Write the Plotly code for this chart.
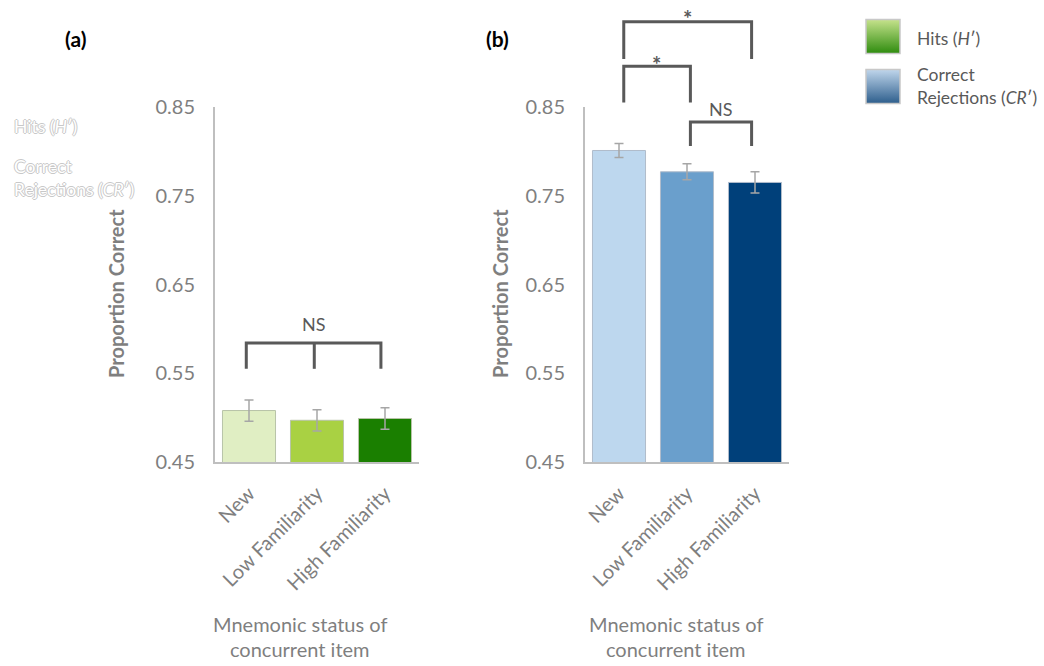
import plotly.graph_objects as go

W, H = 1044, 666

categories = ["New", "Low Familiarity", "High Familiarity"]
hits = [0.508, 0.497, 0.499]
hits_err = [0.012, 0.012, 0.012]
cr = [0.801, 0.777, 0.765]
cr_err = [0.008, 0.009, 0.012]
y_ticks = [0.45, 0.55, 0.65, 0.75, 0.85]
y_range = [0.45, 0.85]

hits_colors = ["#e0eec3", "#a9d143", "#1a7f00"]
cr_colors = ["#bdd7ee", "#6a9fcc", "#00407a"]

# bracket levels (data units): (top, bottom)
a_ns_level = (0.584, 0.555)
b_outer_level = (0.946, 0.904)
b_inner_level = (0.896, 0.855)
b_ns_level = (0.833, 0.806)

FONT = "Lato"
GRAY_TXT = "#7f7f7f"
DARK_TXT = "#595959"

dom_a = [215 / W, 419 / W]
dom_b = [585 / W, 789 / W]
dom_y = [1 - 462 / H, 1 - 107 / H]


def px(dom, i, off=0.0):
    return dom[0] + (i + 0.5 + off) / 3 * (dom[1] - dom[0])


def py(v):
    return dom_y[0] + (v - y_range[0]) / (y_range[1] - y_range[0]) * (dom_y[1] - dom_y[0])


fig = go.Figure()

err_style = dict(type="data", color="#a6a6a6", thickness=1.5, width=4.5)

fig.add_trace(go.Bar(x=categories, y=hits, marker=dict(color=hits_colors, line=dict(color="#b8c4a8", width=1)),
                     error_y=dict(array=hits_err, **err_style), xaxis="x", yaxis="y", showlegend=False))
fig.add_trace(go.Bar(x=categories, y=cr, marker=dict(color=cr_colors, line=dict(color="#b0bccb", width=1)),
                     error_y=dict(array=cr_err, **err_style), xaxis="x2", yaxis="y2", showlegend=False))

# legend swatches with vertical gradient on overlay axis (pixel coordinates)
fig.add_trace(go.Scatter(x=[883], y=[36.5], mode="markers", xaxis="x3", yaxis="y3", showlegend=False,
                         marker=dict(symbol="square", size=34, color="#c6e28c",
                                     gradient=dict(type="vertical", color="#2e8c0e"),
                                     line=dict(color="#c8c8c8", width=1.5))))
fig.add_trace(go.Scatter(x=[883], y=[86.5], mode="markers", xaxis="x3", yaxis="y3", showlegend=False,
                         marker=dict(symbol="square", size=34, color="#c0d6ec",
                                     gradient=dict(type="vertical", color="#2d5e8c"),
                                     line=dict(color="#c8c8c8", width=1.5))))

xax = dict(showline=True, linecolor="#bfbfbf", linewidth=2, showgrid=False, zeroline=False,
           tickangle=-45, tickfont=dict(family=FONT, size=20, color=GRAY_TXT),
           ticks="outside", ticklen=10, tickcolor="rgba(0,0,0,0)")
yax = dict(range=y_range, tickvals=y_ticks, ticktext=[f"{v:.2f}" for v in y_ticks],
           showline=True, linecolor="#bfbfbf", linewidth=2, showgrid=False, zeroline=False,
           ticks="outside", ticklen=14, tickcolor="rgba(0,0,0,0)",
           tickfont=dict(family=FONT, size=20, color=GRAY_TXT), domain=dom_y)

shapes = []
annotations = []
LINE = dict(color="#595959", width=3)


def bracket(dom, i0, i1, level, offs=(0, 0), mid=None):
    x0 = px(dom, i0, offs[0])
    x1 = px(dom, i1, offs[1])
    yt, yb = py(level[0]), py(level[1])
    shapes.append(dict(type="path", xref="paper", yref="paper",
                       path=f"M {x0},{yb} L {x0},{yt} L {x1},{yt} L {x1},{yb}", line=LINE))
    if mid is not None:
        xm = px(dom, mid[0], mid[1])
        shapes.append(dict(type="line", xref="paper", yref="paper", x0=xm, x1=xm, y0=yt, y1=yb, line=LINE))


bracket(dom_a, 0, 2, a_ns_level, (-0.04, -0.06), mid=(1, -0.04))
bracket(dom_b, 0, 2, b_outer_level, (0.07, -0.05))
bracket(dom_b, 0, 1, b_inner_level, (0.07, 0.05))
bracket(dom_b, 1, 2, b_ns_level, (0.05, -0.05))


def txt(x, y, text, size, color=DARK_TXT, xanchor="center", **kw):
    annotations.append(dict(x=x, y=y, xref="paper", yref="paper", text=text, showarrow=False,
                            xanchor=xanchor, yanchor="middle",
                            font=dict(family=FONT, size=size, color=color), **kw))


txt(px(dom_a, 1, -0.04), py(0.605), "NS", 18)
txt(px(dom_b, 1, 0.0), py(0.950), "<b>*</b>", 22)
txt(px(dom_b, 0, 0.55), py(0.898), "<b>*</b>", 22)
txt(px(dom_b, 1, 0.5), py(0.848), "NS", 18)

# panel labels
txt(75 / W, 1 - 39 / H, "<b>(a)</b>", 21, color="#000000")
txt(497 / W, 1 - 39 / H, "<b>(b)</b>", 21, color="#000000")

# y titles
for xc in (116, 500):
    txt(xc / W, 1 - 294 / H, "<b>Proportion Correct</b>", 20, color=GRAY_TXT, textangle=-90)

# x titles
for xc in (300, 676):
    txt(xc / W, 1 - 624 / H, "Mnemonic status of", 20, color=GRAY_TXT)
    txt(xc / W, 1 - 649 / H, "concurrent item", 20, color=GRAY_TXT)

# legend texts
txt(915 / W, 1 - 38 / H, "Hits (<i>H</i>′)", 17.5, xanchor="left")
txt(915 / W, 1 - 86 / H, "Correct<br>Rejections (<i>CR</i>′)", 17.5, xanchor="left", align="left")

# ghost outlined legend text at left
ghost = dict(family=FONT, size=17.5, color="#ffffff",
             shadow="1px 0 0 #c8c8c8, -1px 0 0 #c8c8c8, 0 1px 0 #c8c8c8, 0 -1px 0 #c8c8c8")
annotations.append(dict(x=12 / W, y=1 - 127 / H, xref="paper", yref="paper", text="Hits (<i>H</i>′)",
                        showarrow=False, xanchor="left", yanchor="middle", font=ghost))
annotations.append(dict(x=12 / W, y=1 - 178 / H, xref="paper", yref="paper",
                        text="Correct<br>Rejections (<i>CR</i>′)", align="left",
                        showarrow=False, xanchor="left", yanchor="middle", font=ghost))

fig.update_layout(
    width=W, height=H, autosize=False,
    margin=dict(l=0, r=0, t=0, b=0, autoexpand=False),
    paper_bgcolor="white", plot_bgcolor="rgba(0,0,0,0)",
    bargap=0.22,
    xaxis=dict(domain=dom_a, anchor="y", **xax),
    yaxis=dict(anchor="x", **yax),
    xaxis2=dict(domain=dom_b, anchor="y2", **xax),
    yaxis2=dict(anchor="x2", **yax),
    xaxis3=dict(domain=[0, 1], range=[0, W], visible=False, anchor="y3"),
    yaxis3=dict(domain=[0, 1], range=[H, 0], visible=False, anchor="x3"),
    shapes=shapes,
    annotations=annotations,
)

fig.write_html("out.html")
